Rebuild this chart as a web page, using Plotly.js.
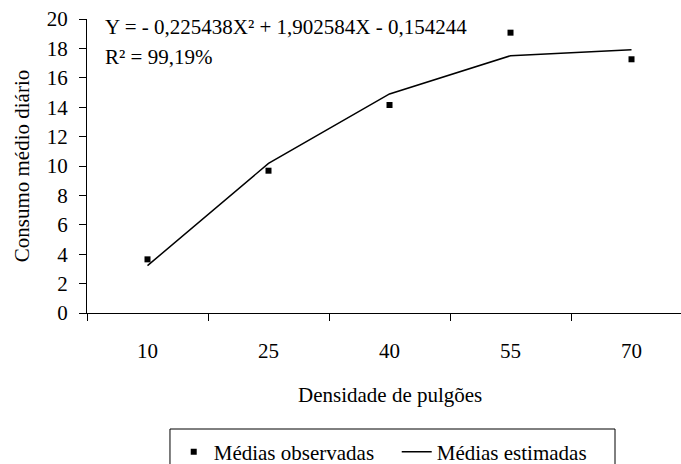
<!DOCTYPE html>
<html><head><meta charset="utf-8">
<script src="https://cdn.plot.ly/plotly-3.0.1.min.js"></script>
<style>body{margin:0;padding:0;background:#fff}#c{width:681px;height:464px}</style>
</head><body><div id="c"></div>
<script>
const categories = ["10","25","40","55","70"];
const observed = [3.65, 9.68, 14.15, 19.07, 17.26];
const estimated = [3.22, 10.18, 14.9, 17.5, 17.9];
const yTicks = [0,2,4,6,8,10,12,14,16,18,20];
const equation = "Y = - 0,225438X² + 1,902584X - 0,154244";
const r2 = "R² = 99,19%";
const font = "Liberation Serif, Times New Roman, serif";

const traces = [
  {x: categories, y: observed, type: "scatter", mode: "markers", name: "Médias observadas",
   marker: {symbol: "square", size: 6, color: "#000"}},
  {x: categories, y: estimated, type: "scatter", mode: "lines", name: "Médias estimadas",
   line: {color: "#000", width: 1.5}}
];
const layout = {
  width: 681, height: 464,
  margin: {l: 87, r: 0, t: 19, b: 151, autoexpand: false},
  paper_bgcolor: "#fff", plot_bgcolor: "#fff",
  font: {family: font, size: 21, color: "#000"},
  showlegend: true,
  legend: {orientation: "h", x: 0.146, xanchor: "left", y: -0.403, yanchor: "top",
           borderwidth: 0, bgcolor: "rgba(0,0,0,0)", font: {size: 21}, itemwidth: 30,
           entrywidth: 178, entrywidthmode: "pixels", traceorder: "normal"},
  shapes: [
    {type: "rect", xref: "paper", yref: "paper", x0: 0.1397, x1: 0.8889, y0: -0.3946, y1: -0.57,
     line: {color: "#000", width: 1}, fillcolor: "rgba(0,0,0,0)", layer: "below"}
  ],
  xaxis: {type: "category", range: [-0.5, 4.409], showline: true, linecolor: "#000", linewidth: 1,
          ticks: "outside", tickson: "boundaries", ticklen: 7, tickcolor: "#000",
          showgrid: false, zeroline: false, ticklabelstandoff: 19, fixedrange: true},
  yaxis: {range: [0, 20], tickvals: yTicks, showline: true, linecolor: "#000", linewidth: 1,
          ticks: "outside", ticklen: 7, tickcolor: "#000", showgrid: false, zeroline: false,
          ticklabelstandoff: 7,
          title: {text: "Consumo médio diário", standoff: 11, font: {size: 21}}},
  annotations: [
    {text: equation, xref: "paper", yref: "paper", x: 0.027, y: 0.973, xanchor: "left", yanchor: "middle",
     showarrow: false, font: {size: 21}},
    {text: r2, xref: "paper", yref: "paper", x: 0.027, y: 0.871, xanchor: "left", yanchor: "middle",
     showarrow: false, font: {size: 21}},
    {text: "Densidade de pulgões", xref: "paper", yref: "paper", x: (389.5-87)/594, y: -0.279,
     xanchor: "center", yanchor: "middle", showarrow: false, font: {size: 21}}
  ]
};
Plotly.newPlot("c", traces, layout, {staticPlot: true});
</script></body></html>
